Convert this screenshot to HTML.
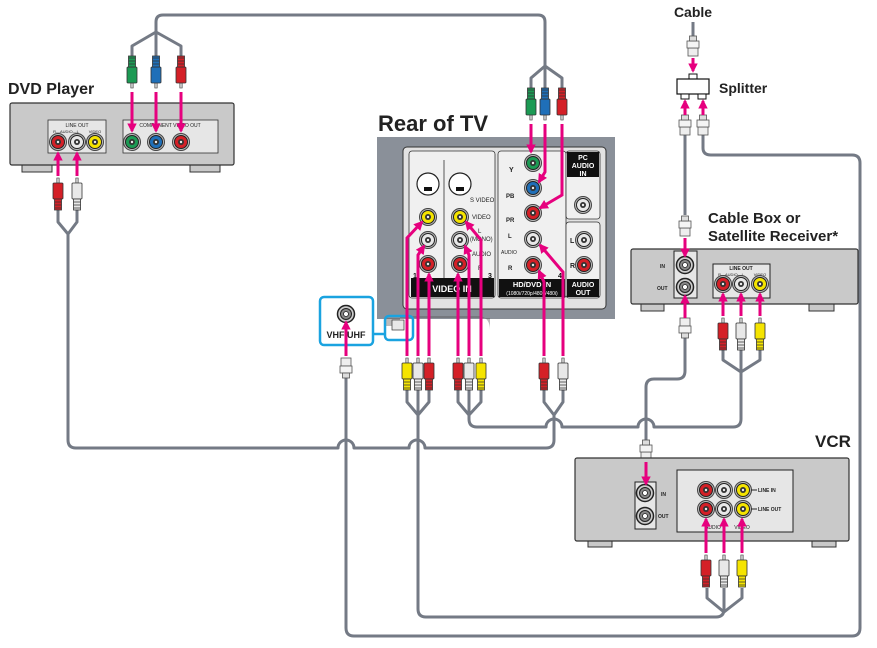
<!DOCTYPE html>
<html><head><meta charset="utf-8"><style>
html,body{margin:0;padding:0;background:#fff;}
svg{display:block;font-family:"Liberation Sans",Arial,sans-serif;}
</style></head><body>
<svg width="877" height="648" viewBox="0 0 877 648" xmlns="http://www.w3.org/2000/svg">
<defs>
<marker id="ah" viewBox="0 0 10 10" refX="8" refY="5" markerWidth="3.2" markerHeight="3.2" orient="auto-start-reverse"><path d="M0,0 L10,5 L0,10 z" fill="#e6007e"/></marker>
<g id="plug"><rect x="-1.2" y="0" width="2.4" height="5" fill="#ccc" stroke="#444" stroke-width="0.6"/><rect x="-5" y="5" width="10" height="16" rx="1" stroke="#333" stroke-width="0.8"/><rect x="-3.5" y="21" width="7" height="11" stroke="#333" stroke-width="0.8"/><path d="M-3.5,24h7M-3.5,27h7M-3.5,30h7" stroke="#333" stroke-width="0.7"/></g>
<g id="jack"><circle r="8.5" fill="#bbb" stroke="#444" stroke-width="1"/><circle r="6.5" stroke="#222" stroke-width="1"/><circle r="3" fill="#333"/><circle r="1.2" fill="#eee"/></g>
<g id="coax"><circle r="8.5" fill="#ccc" stroke="#222" stroke-width="1.5"/><circle r="5.5" fill="#888" stroke="#222" stroke-width="1"/><circle r="2.5" fill="#fff" stroke="#222" stroke-width="0.8"/></g>
<g id="fplug"><rect x="-5" y="0" width="10" height="8" fill="#eee" stroke="#555" stroke-width="0.8"/><rect x="-6" y="8" width="12" height="7" fill="#f4f4f4" stroke="#555" stroke-width="0.8"/><rect x="-3.5" y="15" width="7" height="5" fill="#ddd" stroke="#555" stroke-width="0.8"/></g>
</defs>

<!-- gray cables -->
<g fill="none" stroke="#747a85" stroke-width="3" stroke-linejoin="round">
<!-- component top -->
<path d="M132,56 L132,46 L156,32 L181,46 L181,56 M156,56 L156,22 Q156,15 163,15 L538,15 Q545,15 545,22 L545,66 M531,88 L531,78 L545,66 L562,78 L562,88 M545,88 L545,66"/>
<!-- DVD audio -->
<path d="M58,210 L58,222 L68,234 L77,222 L77,210 M68,234 L68,440 Q68,448 76,448 L338,448 A8,8 0 0 1 354,448 L409,448 A8,8 0 0 1 425,448 L546,448 Q554,448 554,440 L554,415"/>
<!-- TV group1 -> VCR -->
<path d="M407,390 L407,402 L418,415 L429,402 L429,390 M418,390 L418,609 Q418,617 426,617 L716,617 Q724,617 724,609 L724,600"/>
<path d="M707,588 L707,598 L724,612 L742,598 L742,588 M724,588 L724,612"/>
<!-- TV group2 -> cable box -->
<path d="M458,390 L458,402 L469,415 L481,402 L481,390 M469,390 L469,419 Q469,427 477,427 L546,427 A8,8 0 0 1 562,427 L638,427 A8,8 0 0 1 654,427 L733,427 Q741,427 741,419 L741,372"/>
<path d="M723,350 L723,360 L741,372 L760,360 L760,350 M741,350 L741,372"/>
<!-- TV group3 -->
<path d="M544,390 L544,402 L554,415 L563,402 L563,390"/>
<!-- splitter to cable box in -->
<path d="M685,135 L685,215"/>
<!-- cable box out to VCR -->
<path d="M685,336 L685,371 Q685,379 677,379 L654,379 Q646,379 646,387 L646,442"/>
<!-- splitter right to VHF -->
<path d="M703,135 L703,148 Q703,155 711,155 L852,155 Q860,155 860,163 L860,628 Q860,636 852,636 L354,636 Q346,636 346,628 L346,378"/>
<!-- cable in -->
<path d="M693,22 L693,40"/>
</g>

<!-- DVD player -->
<text x="8" y="94" font-size="16" font-weight="bold" fill="#222">DVD Player</text>
<rect x="22" y="164" width="30" height="8" fill="#c9c9c9" stroke="#333" stroke-width="1"/>
<rect x="190" y="164" width="30" height="8" fill="#c9c9c9" stroke="#333" stroke-width="1"/>
<rect x="10" y="103" width="224" height="62" rx="2" fill="#c9c9c9" stroke="#333" stroke-width="1.2"/>
<rect x="48" y="120" width="58" height="33" fill="#e6e6e6" stroke="#333" stroke-width="0.8"/>
<text x="77" y="127" font-size="5" text-anchor="middle" fill="#222">LINE OUT</text>
<text x="66" y="133" font-size="4" text-anchor="middle" fill="#222">R—AUDIO—L</text>
<text x="95" y="133" font-size="4" text-anchor="middle" fill="#222">VIDEO</text>
<rect x="123" y="120" width="95" height="33" fill="#e6e6e6" stroke="#333" stroke-width="0.8"/>
<text x="170" y="127" font-size="5" text-anchor="middle" fill="#222">COMPONENT VIDEO OUT</text>
<use href="#jack" x="58" y="142" fill="#d42027"/>
<use href="#jack" x="77" y="142" fill="#e8e8e8"/>
<use href="#jack" x="95" y="142" fill="#f5e400"/>
<use href="#jack" x="132" y="142" fill="#1c9a54"/>
<use href="#jack" x="156" y="142" fill="#1f6fb8"/>
<use href="#jack" x="181" y="142" fill="#d42027"/>

<!-- plugs DVD component (pointing down) -->
<use href="#plug" transform="translate(132,88) rotate(180)" fill="#1c9a54"/>
<use href="#plug" transform="translate(156,88) rotate(180)" fill="#1f6fb8"/>
<use href="#plug" transform="translate(181,88) rotate(180)" fill="#d42027"/>
<use href="#plug" transform="translate(531,120) rotate(180)" fill="#1c9a54"/>
<use href="#plug" transform="translate(545,120) rotate(180)" fill="#1f6fb8"/>
<use href="#plug" transform="translate(562,120) rotate(180)" fill="#d42027"/>
<!-- DVD audio plugs -->
<use href="#plug" x="58" y="178" fill="#d42027"/>
<use href="#plug" x="77" y="178" fill="#e8e8e8"/>

<!-- TV -->
<text x="378" y="131" font-size="22" font-weight="bold" fill="#222">Rear of TV</text>
<rect x="377" y="137" width="238" height="182" fill="#8a9099"/>
<path d="M384,318 L384,326 L400,326 L400,316 L480,316 Q490,318 490,330 L490,318 Z" fill="#555" opacity="0.4"/>
<rect x="403" y="147" width="203" height="162" rx="4" fill="#e2e2e2" stroke="#333" stroke-width="1"/>
<rect x="409" y="151" width="86" height="147" rx="3" fill="#f0f0f0" stroke="#333" stroke-width="0.8"/>
<rect x="411" y="278" width="83" height="19" fill="#111"/>
<text x="452" y="292" font-size="9" font-weight="bold" fill="#fff" text-anchor="middle">VIDEO IN</text>
<text x="413" y="278" font-size="7" font-weight="bold" fill="#111">1</text>
<text x="488" y="278" font-size="7" font-weight="bold" fill="#111">3</text>
<line x1="444" y1="160" x2="444" y2="278" stroke="#333" stroke-width="0.8"/>
<rect x="498" y="151" width="68" height="147" rx="3" fill="#f0f0f0" stroke="#333" stroke-width="0.8"/>
<rect x="499" y="279" width="66" height="18" fill="#111"/>
<text x="532" y="287" font-size="7.5" font-weight="bold" fill="#fff" text-anchor="middle">HD/DVD IN</text>
<text x="532" y="295" font-size="5" fill="#fff" text-anchor="middle">(1080i/720p/480p/480i)</text>
<text x="558" y="278" font-size="7" font-weight="bold" fill="#111">4</text>
<rect x="566" y="151" width="34" height="68" rx="3" fill="#f0f0f0" stroke="#333" stroke-width="0.8"/>
<rect x="567" y="152" width="32" height="25" fill="#111"/>
<text x="583" y="160" font-size="7" font-weight="bold" fill="#fff" text-anchor="middle">PC</text>
<text x="583" y="168" font-size="7" font-weight="bold" fill="#fff" text-anchor="middle">AUDIO</text>
<text x="583" y="176" font-size="7" font-weight="bold" fill="#fff" text-anchor="middle">IN</text>
<rect x="566" y="222" width="34" height="76" rx="3" fill="#f0f0f0" stroke="#333" stroke-width="0.8"/>
<rect x="567" y="279" width="32" height="18" fill="#111"/>
<text x="583" y="287" font-size="7" font-weight="bold" fill="#fff" text-anchor="middle">AUDIO</text>
<text x="583" y="295" font-size="7" font-weight="bold" fill="#fff" text-anchor="middle">OUT</text>
<!-- S-video -->
<circle cx="428" cy="184" r="11" fill="#fff" stroke="#222" stroke-width="1.2"/>
<rect x="424" y="187" width="8" height="4" fill="#111"/>
<circle cx="460" cy="184" r="11" fill="#fff" stroke="#222" stroke-width="1.2"/>
<rect x="456" y="187" width="8" height="4" fill="#111"/>
<text x="470" y="202" font-size="6" fill="#222">S VIDEO</text>
<text x="472" y="219" font-size="6" fill="#222">VIDEO</text>
<text x="478" y="233" font-size="6" fill="#222">L</text>
<text x="470" y="241" font-size="6" fill="#222">(MONO)</text>
<text x="472" y="256" font-size="6" fill="#222">AUDIO</text>
<text x="478" y="270" font-size="6" fill="#222">R</text>
<use href="#jack" x="428" y="217" fill="#f5e400"/>
<use href="#jack" x="428" y="240" fill="#e8e8e8"/>
<use href="#jack" x="428" y="264" fill="#d42027"/>
<use href="#jack" x="460" y="217" fill="#f5e400"/>
<use href="#jack" x="460" y="240" fill="#e8e8e8"/>
<use href="#jack" x="460" y="264" fill="#d42027"/>
<text x="509" y="172" font-size="7" font-weight="bold" fill="#222">Y</text>
<text x="506" y="198" font-size="6" font-weight="bold" fill="#222">PB</text>
<text x="506" y="222" font-size="6" font-weight="bold" fill="#222">PR</text>
<text x="508" y="238" font-size="6" font-weight="bold" fill="#222">L</text>
<text x="501" y="254" font-size="5" fill="#222">AUDIO</text>
<text x="508" y="270" font-size="6" font-weight="bold" fill="#222">R</text>
<use href="#jack" x="533" y="163" fill="#1c9a54"/>
<use href="#jack" x="533" y="188" fill="#1f6fb8"/>
<use href="#jack" x="533" y="213" fill="#d42027"/>
<use href="#jack" x="533" y="239" fill="#e8e8e8"/>
<use href="#jack" x="533" y="265" fill="#d42027"/>
<use href="#jack" x="583" y="205" fill="#e8e8e8"/>
<use href="#jack" x="584" y="240" fill="#e8e8e8"/>
<use href="#jack" x="584" y="265" fill="#d42027"/>
<text x="570" y="243" font-size="7" font-weight="bold" fill="#222">L</text>
<text x="570" y="268" font-size="7" font-weight="bold" fill="#222">R</text>
<!-- TV antenna input blue -->
<rect x="385" y="316" width="28" height="24" rx="4" fill="none" stroke="#1aa3e0" stroke-width="2.5"/>
<rect x="392" y="320" width="12" height="10" fill="#e8e8e8" stroke="#333" stroke-width="0.7"/>
<line x1="373" y1="334" x2="385" y2="334" stroke="#1aa3e0" stroke-width="2.5"/>
<rect x="320" y="297" width="53" height="48" rx="4" fill="#fff" stroke="#1aa3e0" stroke-width="2.5"/>
<use href="#coax" x="346" y="314"/>
<text x="346" y="338" font-size="9" font-weight="bold" fill="#222" text-anchor="middle">VHF/UHF</text>

<!-- TV bottom plugs -->
<use href="#plug" x="407" y="358" fill="#f5e400"/>
<use href="#plug" x="418" y="358" fill="#e8e8e8"/>
<use href="#plug" x="429" y="358" fill="#d42027"/>
<use href="#plug" x="458" y="358" fill="#d42027"/>
<use href="#plug" x="469" y="358" fill="#e8e8e8"/>
<use href="#plug" x="481" y="358" fill="#f5e400"/>
<use href="#plug" x="544" y="358" fill="#d42027"/>
<use href="#plug" x="563" y="358" fill="#e8e8e8"/>
<use href="#fplug" x="346" y="358"/>

<!-- Splitter -->
<text x="693" y="17" font-size="14" font-weight="bold" fill="#222" text-anchor="middle">Cable</text>
<use href="#fplug" transform="translate(693,56) rotate(180)"/>
<rect x="689" y="74" width="8" height="5" fill="#fff" stroke="#111" stroke-width="1"/>
<rect x="677" y="79" width="32" height="15" fill="#fff" stroke="#111" stroke-width="1.2"/>
<rect x="681" y="94" width="8" height="5" fill="#fff" stroke="#111" stroke-width="1"/>
<rect x="698" y="94" width="8" height="5" fill="#fff" stroke="#111" stroke-width="1"/>
<text x="719" y="93" font-size="14" font-weight="bold" fill="#222">Splitter</text>
<use href="#fplug" transform="translate(685,135) rotate(180)"/>
<use href="#fplug" transform="translate(703,135) rotate(180)"/>

<!-- Cable box -->
<text x="708" y="223" font-size="15" font-weight="bold" fill="#222">Cable Box or</text>
<text x="708" y="241" font-size="15" font-weight="bold" fill="#222">Satellite Receiver*</text>
<use href="#fplug" transform="translate(685,236) rotate(180)"/>
<rect x="641" y="303" width="23" height="8" fill="#c9c9c9" stroke="#333" stroke-width="1"/>
<rect x="809" y="303" width="25" height="8" fill="#c9c9c9" stroke="#333" stroke-width="1"/>
<rect x="631" y="249" width="227" height="55" rx="2" fill="#c9c9c9" stroke="#333" stroke-width="1.2"/>
<rect x="674" y="251" width="23" height="47" fill="#e6e6e6" stroke="#222" stroke-width="1"/>
<use href="#coax" x="685" y="265"/>
<use href="#coax" x="685" y="287"/>
<text x="660" y="268" font-size="5" font-weight="bold" fill="#222">IN</text>
<text x="657" y="290" font-size="5" font-weight="bold" fill="#222">OUT</text>
<rect x="713" y="264" width="57" height="34" fill="#e6e6e6" stroke="#222" stroke-width="1"/>
<text x="741" y="270" font-size="5" font-weight="bold" fill="#222" text-anchor="middle">LINE OUT</text>
<text x="731" y="276" font-size="4" fill="#222" text-anchor="middle">R—AUDIO—L</text>
<text x="760" y="276" font-size="4" fill="#222" text-anchor="middle">VIDEO</text>
<use href="#jack" x="723" y="284" fill="#d42027"/>
<use href="#jack" x="741" y="284" fill="#e8e8e8"/>
<use href="#jack" x="760" y="284" fill="#f5e400"/>
<use href="#fplug" x="685" y="318"/>
<use href="#plug" x="723" y="318" fill="#d42027"/>
<use href="#plug" x="741" y="318" fill="#e8e8e8"/>
<use href="#plug" x="760" y="318" fill="#f5e400"/>

<!-- VCR -->
<text x="815" y="447" font-size="17" font-weight="bold" fill="#222">VCR</text>
<use href="#fplug" transform="translate(646,460) rotate(180)"/>
<rect x="588" y="540" width="24" height="7" fill="#c9c9c9" stroke="#333" stroke-width="1"/>
<rect x="812" y="540" width="24" height="7" fill="#c9c9c9" stroke="#333" stroke-width="1"/>
<rect x="575" y="458" width="274" height="83" rx="2" fill="#c9c9c9" stroke="#333" stroke-width="1.2"/>
<rect x="635" y="482" width="21" height="47" fill="#e6e6e6" stroke="#222" stroke-width="1"/>
<use href="#coax" x="645" y="493"/>
<use href="#coax" x="645" y="516"/>
<text x="661" y="496" font-size="5" font-weight="bold" fill="#222">IN</text>
<text x="658" y="518" font-size="5" font-weight="bold" fill="#222">OUT</text>
<rect x="677" y="470" width="116" height="62" fill="#e6e6e6" stroke="#222" stroke-width="1"/>
<use href="#jack" x="706" y="490" fill="#d42027"/>
<use href="#jack" x="724" y="490" fill="#e8e8e8"/>
<use href="#jack" x="743" y="490" fill="#f5e400"/>
<use href="#jack" x="706" y="509" fill="#d42027"/>
<use href="#jack" x="724" y="509" fill="#e8e8e8"/>
<use href="#jack" x="743" y="509" fill="#f5e400"/>
<line x1="751" y1="490" x2="757" y2="490" stroke="#222"/><line x1="751" y1="509" x2="757" y2="509" stroke="#222"/>
<text x="758" y="492" font-size="5" font-weight="bold" fill="#222">LINE IN</text>
<text x="758" y="511" font-size="5" font-weight="bold" fill="#222">LINE OUT</text>
<text x="713" y="529" font-size="5" fill="#222" text-anchor="middle">AUDIO</text>
<text x="742" y="529" font-size="5" fill="#222" text-anchor="middle">VIDEO</text>
<use href="#plug" x="706" y="555" fill="#d42027"/>
<use href="#plug" x="724" y="555" fill="#e8e8e8"/>
<use href="#plug" x="742" y="555" fill="#f5e400"/>

<!-- pink arrows -->
<g fill="none" stroke="#e6007e" stroke-width="3" marker-end="url(#ah)">
<path d="M132,92 L132,131"/><path d="M156,92 L156,131"/><path d="M181,92 L181,131"/>
<path d="M58,176 L58,153"/><path d="M77,176 L77,153"/>
<path d="M531,124 L531,152"/>
<path d="M545,124 L545,172 L539,182"/>
<path d="M562,124 L562,195 L540,208"/>
<path d="M407,356 L407,238 L422,222"/>
<path d="M418,356 L418,255 L424,246"/>
<path d="M429,356 L429,274"/>
<path d="M458,356 L458,274"/>
<path d="M469,356 L469,255 L465,246"/>
<path d="M481,356 L481,240 L466,222"/>
<path d="M544,356 L544,282 L539,271"/>
<path d="M563,356 L563,272 L540,245"/>
<path d="M346,356 L346,322"/>
<path d="M693,58 L693,71"/>
<path d="M685,115 L685,101"/><path d="M703,115 L703,101"/>
<path d="M685,238 L685,256"/>
<path d="M685,318 L685,296"/>
<path d="M723,316 L723,294"/><path d="M741,316 L741,294"/><path d="M760,316 L760,294"/>
<path d="M646,462 L646,484"/>
<path d="M706,553 L706,519"/><path d="M724,553 L724,519"/><path d="M742,553 L742,519"/>
</g>
</svg>
</body></html>
